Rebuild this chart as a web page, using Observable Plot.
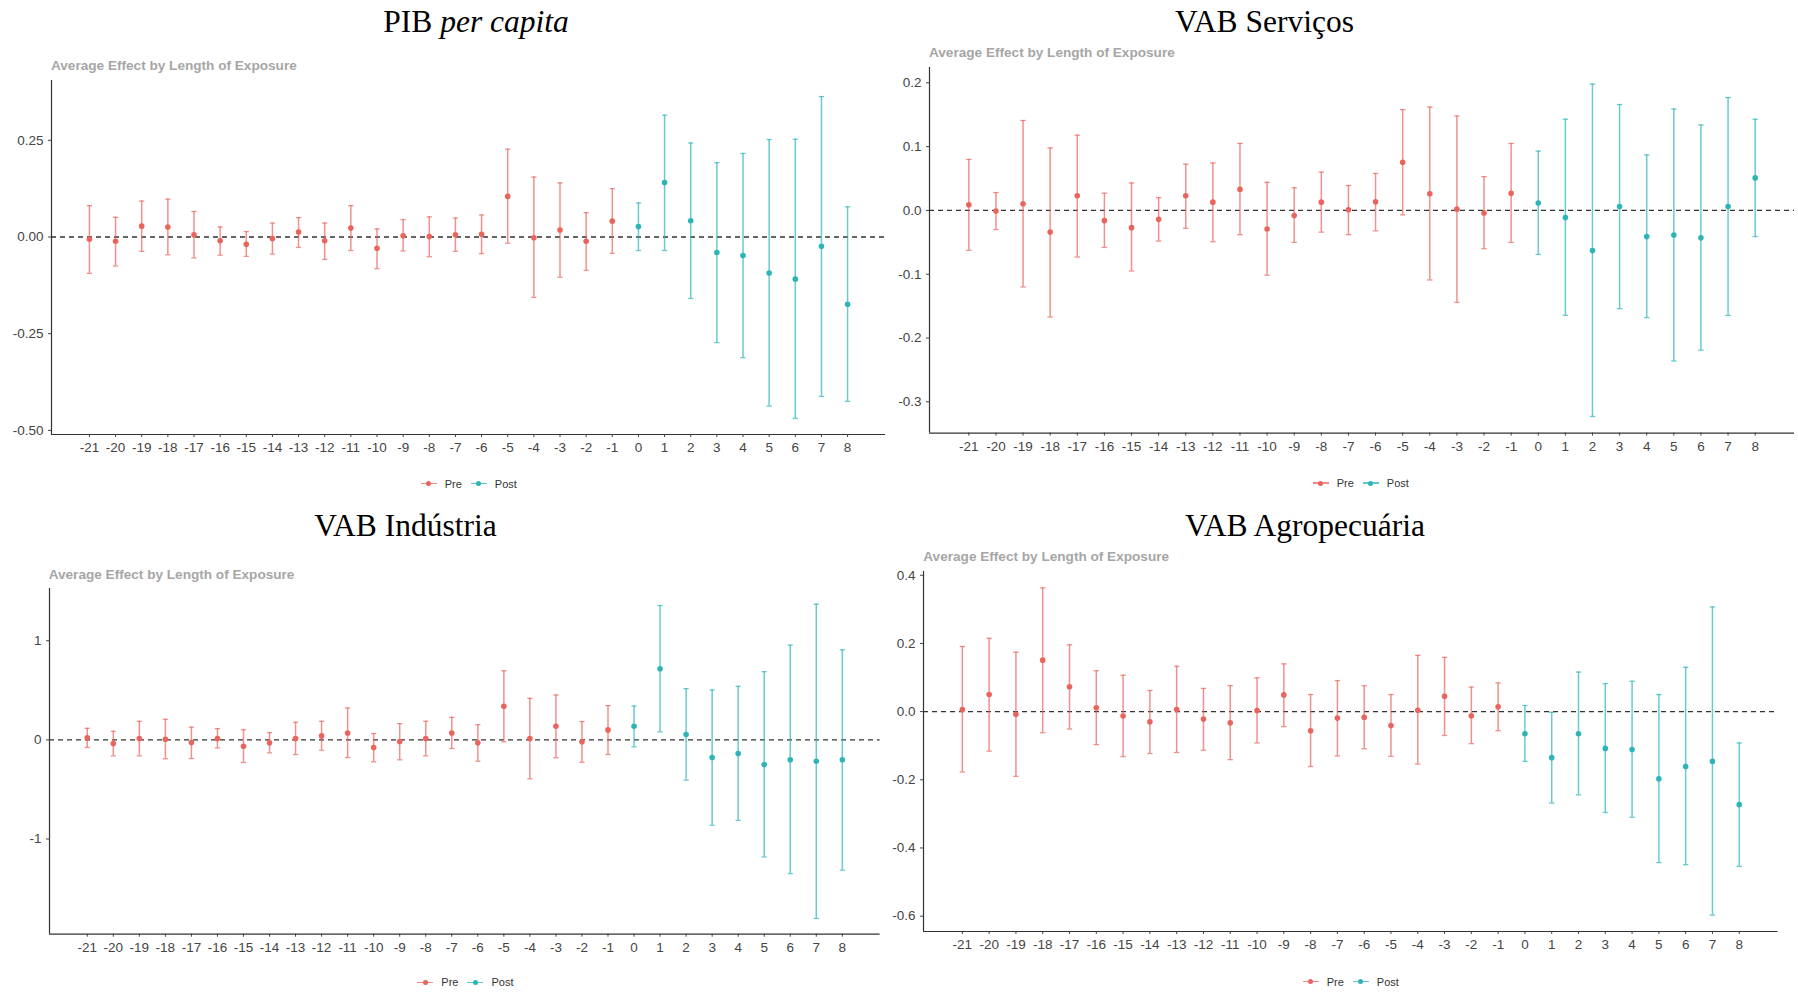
<!DOCTYPE html>
<html><head><meta charset="utf-8">
<script src="https://cdn.jsdelivr.net/npm/d3@7"></script>
<script src="https://cdn.jsdelivr.net/npm/@observablehq/plot@0.6"></script>
<style>
html,body{margin:0;padding:0;background:#fff}
body{width:1798px;height:992px;position:relative;overflow:hidden;font-family:"Liberation Sans",Arial,sans-serif}
.chart{position:absolute}
.title{position:absolute;font-family:"Liberation Serif","Times New Roman",serif;font-size:31.5px;line-height:31.5px;color:#000;white-space:nowrap;transform:translateX(-50%)}
.sub{position:absolute;font-weight:bold;font-size:13.6px;line-height:13px;color:#A6A6A6;white-space:nowrap}
.legend{position:absolute;display:flex;align-items:center;height:12px;font-size:11px;line-height:12px;color:#333;white-space:nowrap}
.key{position:relative;width:16px;height:12px;display:inline-block}
.key .ln{position:absolute;left:0;right:0;top:5.25px;height:1.5px;opacity:.75}
.key .dt{position:absolute;left:5.5px;top:3.5px;width:5px;height:5px;border-radius:50%}
</style></head><body>
<script>
// Event time (length of exposure)
const eventTimes = [-21,-20,-19,-18,-17,-16,-15,-14,-13,-12,-11,-10,-9,-8,-7,-6,-5,-4,-3,-2,-1,0,1,2,3,4,5,6,7,8];
const periods = ["Pre", "Post"];
const periodColors = ["#E8645D", "#2DB4B9"];

// PIB per capita
const pibEst = [-0.006,-0.011,0.028,0.026,0.006,-0.010,-0.019,-0.004,0.013,-0.010,0.023,-0.029,0.003,0.001,0.006,0.007,0.105,-0.002,0.018,-0.011,0.041,0.027,0.141,0.042,-0.040,-0.048,-0.093,-0.109,-0.024,-0.174];
const pibLo  = [-0.094,-0.075,-0.037,-0.046,-0.054,-0.047,-0.050,-0.044,-0.027,-0.058,-0.035,-0.082,-0.036,-0.051,-0.037,-0.043,-0.016,-0.156,-0.104,-0.086,-0.042,-0.035,-0.035,-0.159,-0.273,-0.312,-0.437,-0.469,-0.412,-0.425];
const pibHi  = [0.081,0.051,0.093,0.098,0.066,0.026,0.014,0.036,0.050,0.036,0.081,0.021,0.045,0.052,0.049,0.057,0.227,0.155,0.140,0.063,0.125,0.088,0.315,0.243,0.192,0.216,0.252,0.253,0.363,0.078];
const pibTicks = [-0.5,-0.25,0,0.25];
const pibTickLabels = ["-0.50","-0.25","0.00","0.25"];

// VAB Serviços
const servEst = [0.009,-0.001,0.0105,-0.034,0.023,-0.016,-0.027,-0.014,0.023,0.013,0.033,-0.029,-0.008,0.013,0.001,0.0135,0.0755,0.026,0.002,-0.004,0.027,0.0115,-0.011,-0.063,0.006,-0.041,-0.0385,-0.043,0.006,0.051];
const servLo  = [-0.0625,-0.030,-0.120,-0.167,-0.073,-0.058,-0.095,-0.048,-0.028,-0.049,-0.038,-0.1015,-0.050,-0.034,-0.038,-0.032,-0.007,-0.109,-0.144,-0.060,-0.050,-0.069,-0.1645,-0.323,-0.154,-0.168,-0.236,-0.219,-0.1645,-0.041];
const servHi  = [0.080,0.028,0.141,0.098,0.118,0.027,0.043,0.020,0.0725,0.0745,0.105,0.044,0.0355,0.060,0.039,0.058,0.158,0.162,0.148,0.053,0.105,0.093,0.143,0.198,0.166,0.087,0.159,0.134,0.177,0.143];
const servTicks = [-0.3,-0.2,-0.1,0,0.1,0.2];
const servTickLabels = ["-0.3","-0.2","-0.1","0.0","0.1","0.2"];

// VAB Indústria
const indEst = [0.020,-0.037,0.013,0.007,-0.027,0.013,-0.064,-0.030,0.013,0.040,0.070,-0.077,-0.017,0.013,0.070,-0.030,0.339,0.013,0.138,-0.020,0.101,0.138,0.718,0.054,-0.178,-0.138,-0.248,-0.201,-0.215,-0.201];
const indLo  = [-0.077,-0.161,-0.161,-0.191,-0.188,-0.081,-0.228,-0.131,-0.148,-0.104,-0.178,-0.221,-0.201,-0.161,-0.087,-0.215,-0.020,-0.393,-0.181,-0.225,-0.148,-0.070,0.081,-0.406,-0.862,-0.812,-1.181,-1.349,-1.802,-1.315];
const indHi  = [0.117,0.087,0.188,0.208,0.128,0.114,0.101,0.074,0.178,0.188,0.322,0.064,0.164,0.188,0.228,0.154,0.698,0.419,0.453,0.185,0.346,0.342,1.356,0.517,0.503,0.540,0.688,0.956,1.369,0.909];
const indTicks = [-1,0,1];
const indTickLabels = ["-1","0","1"];

// VAB Agropecuária
const agroEst = [0.006,0.050,-0.008,0.151,0.073,0.011,-0.013,-0.030,0.006,-0.022,-0.033,0.003,0.049,-0.056,-0.019,-0.017,-0.041,0.004,0.045,-0.012,0.014,-0.065,-0.135,-0.065,-0.108,-0.111,-0.197,-0.161,-0.146,-0.273];
const agroLo  = [-0.177,-0.116,-0.190,-0.062,-0.051,-0.097,-0.132,-0.123,-0.120,-0.113,-0.141,-0.092,-0.044,-0.161,-0.130,-0.109,-0.131,-0.154,-0.070,-0.094,-0.056,-0.146,-0.268,-0.244,-0.296,-0.310,-0.443,-0.449,-0.597,-0.454];
const agroHi  = [0.191,0.215,0.174,0.363,0.196,0.120,0.107,0.062,0.133,0.068,0.076,0.099,0.140,0.050,0.091,0.076,0.050,0.165,0.159,0.072,0.084,0.018,-0.002,0.116,0.082,0.089,0.050,0.130,0.307,-0.092];
const agroTicks = [-0.6,-0.4,-0.2,0,0.2,0.4];
const agroTickLabels = ["-0.6","-0.4","-0.2","0.0","0.2","0.4"];

const subtitleText = "Average Effect by Length of Exposure";

// Layout (frame boxes in page pixels)
const panels = [
  {title: "PIB <i>per capita</i>", est: pibEst, lo: pibLo, hi: pibHi, ticks: pibTicks, labels: pibTickLabels,
   frame: {L: 51, T: 80, R: 885, B: 434}, titleX: 476, titleTop: 6, subLeft: 51, subTop: 59, legLeft: 420.7, legCy: 483.7},
  {title: "VAB Serviços", est: servEst, lo: servLo, hi: servHi, ticks: servTicks, labels: servTickLabels,
   frame: {L: 929, T: 66.7, R: 1794, B: 432.3}, titleX: 1264.5, titleTop: 6, subLeft: 929, subTop: 45.7, legLeft: 1312.7, legCy: 483},
  {title: "VAB Indústria", est: indEst, lo: indLo, hi: indHi, ticks: indTicks, labels: indTickLabels,
   frame: {L: 48.7, T: 588.3, R: 879.3, B: 934}, titleX: 405.5, titleTop: 510.4, subLeft: 48.7, subTop: 568, legLeft: 417.3, legCy: 982.3},
  {title: "VAB Agropecuária", est: agroEst, lo: agroLo, hi: agroHi, ticks: agroTicks, labels: agroTickLabels,
   frame: {L: 922.7, T: 571, R: 1777.3, B: 931}, titleX: 1305, titleTop: 509.7, subLeft: 923.3, subTop: 549.7, legLeft: 1302.7, legCy: 981.7}
];

function expand(lo, hi) { const r = hi - lo; return [lo - 0.05 * r, hi + 0.05 * r]; }

for (const p of panels) {
  const data = eventTimes.map((t, i) => ({t, est: p.est[i], lo: p.lo[i], hi: p.hi[i], period: t < 0 ? "Pre" : "Post"}));
  const xDom = expand(d3.min(eventTimes), d3.max(eventTimes));
  const yDom = expand(d3.min(p.lo), d3.max(p.hi));
  const f = p.frame;
  const svgLeft = f.L - 52, svgTop = f.T - 20;
  const labelOf = new Map(p.ticks.map((v, i) => [v, p.labels[i]]));
  const chart = Plot.plot({
    width: f.R - svgLeft + 8,
    height: f.B - svgTop + 30,
    marginLeft: f.L - svgLeft, marginRight: 8, marginTop: 20, marginBottom: 30,
    style: {background: "transparent", fontFamily: "'Liberation Sans', Arial, sans-serif", fontSize: "13.5px", color: "#444", overflow: "visible"},
    x: {domain: xDom, label: null},
    y: {domain: yDom, label: null},
    color: {domain: periods, range: periodColors},
    marks: [
      Plot.ruleY([0], {stroke: "#333", strokeWidth: 1.3, strokeDasharray: "5,4"}),
      Plot.ruleX(data, {x: "t", y1: "lo", y2: "hi", stroke: "period", strokeWidth: 1.5, strokeOpacity: 0.7}),
      Plot.link(data, {x1: d => d.t - 0.1, x2: d => d.t + 0.1, y1: "lo", y2: "lo", stroke: "period", strokeWidth: 1.3, strokeOpacity: 0.7}),
      Plot.link(data, {x1: d => d.t - 0.1, x2: d => d.t + 0.1, y1: "hi", y2: "hi", stroke: "period", strokeWidth: 1.3, strokeOpacity: 0.7}),
      Plot.dot(data, {x: "t", y: "est", fill: "period", r: 2.8}),
      Plot.axisX(eventTimes, {tickSize: 3, tickPadding: 5, tickFormat: d => String(d), label: null}),
      Plot.axisY(p.ticks, {tickSize: 3, tickPadding: 5, tickFormat: d => labelOf.get(d), label: null}),
      Plot.ruleX([xDom[0]], {stroke: "#333", strokeWidth: 1.2}),
      Plot.ruleY([yDom[0]], {stroke: "#333", strokeWidth: 1.2})
    ]
  });
  chart.classList.add("chart");
  chart.style.left = svgLeft + "px";
  chart.style.top = svgTop + "px";
  document.body.appendChild(chart);

  const t = document.createElement("div");
  t.className = "title"; t.innerHTML = p.title;
  t.style.left = p.titleX + "px"; t.style.top = p.titleTop + "px";
  document.body.appendChild(t);

  const s = document.createElement("div");
  s.className = "sub"; s.textContent = subtitleText;
  s.style.left = p.subLeft + "px"; s.style.top = p.subTop + "px";
  document.body.appendChild(s);

  const lg = document.createElement("div");
  lg.className = "legend";
  lg.style.left = p.legLeft + "px"; lg.style.top = (p.legCy - 6) + "px";
  periods.forEach((name, i) => {
    const k = document.createElement("span");
    k.className = "key";
    if (i > 0) k.style.marginLeft = "9px";
    k.innerHTML = `<span class="ln" style="background:${periodColors[i]}"></span><span class="dt" style="background:${periodColors[i]}"></span>`;
    const tx = document.createElement("span");
    tx.textContent = name; tx.style.marginLeft = "8px";
    lg.appendChild(k); lg.appendChild(tx);
  });
  document.body.appendChild(lg);
}
</script>
</body></html>
